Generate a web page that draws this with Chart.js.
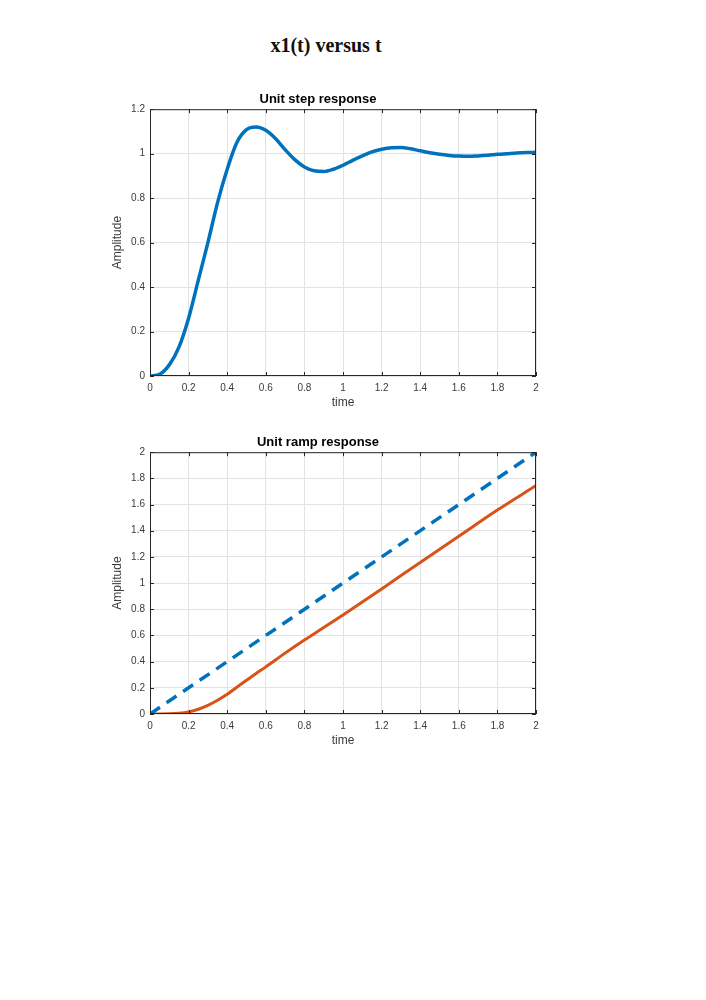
<!DOCTYPE html>
<html>
<head>
<meta charset="utf-8">
<script src="https://cdn.jsdelivr.net/npm/chart.js@4.4.0/dist/chart.umd.min.js"></script>
<style>
  body { margin: 0; background: #fff; width: 706px; height: 1000px; position: relative; overflow: hidden; }
  #pageTitle {
    position: absolute; left: 226px; width: 200px; top: 34px; text-align: center;
    font: bold 20px "Liberation Serif", "Times New Roman", serif; color: #111;
  }
  .box { position: absolute; left: 100px; width: 460px; }
</style>
</head>
<body>
<div id="pageTitle">x1(t) versus t</div>
<div class="box" style="top:85px;height:330px"><canvas id="stepChart"></canvas></div>
<div class="box" style="top:428px;height:325px"><canvas id="rampChart"></canvas></div>
<script>
// time axis ticks
const timeTicks = [0, 0.2, 0.4, 0.6, 0.8, 1, 1.2, 1.4, 1.6, 1.8, 2];

// unit step response
const stepTime = [0, 0.05, 0.1, 0.15, 0.2, 0.25, 0.3, 0.35, 0.4, 0.45, 0.5, 0.55, 0.6, 0.65, 0.7, 0.75, 0.8, 0.85, 0.9, 0.95,
  1, 1.05, 1.1, 1.15, 1.2, 1.25, 1.3, 1.35, 1.4, 1.45, 1.5, 1.55, 1.6, 1.65, 1.7, 1.75, 1.8, 1.85, 1.9, 1.95, 2];
const stepAmp = [0, 0.008, 0.05, 0.13, 0.26, 0.43, 0.6, 0.78, 0.93, 1.05, 1.108, 1.12, 1.105, 1.068, 1.018, 0.973, 0.94, 0.923, 0.92, 0.93,
  0.948, 0.97, 0.99, 1.008, 1.02, 1.027, 1.028, 1.022, 1.013, 1.004, 0.997, 0.992, 0.989, 0.988, 0.99, 0.993, 0.997, 1.0, 1.003, 1.005, 1.006];

// unit ramp input (dashed) and response (solid)
const rampInputTime = [0, 2];
const rampInputAmp = [0, 2];
const rampTime = [0, 0.1, 0.15, 0.2, 0.25, 0.3, 0.35, 0.4, 0.45, 0.5, 0.55, 0.6, 0.7, 0.8, 0.9, 1, 1.2, 1.4, 1.6, 1.8, 2];
const rampAmp = [0, 0.002, 0.006, 0.016, 0.036, 0.066, 0.105, 0.15, 0.205, 0.258, 0.31, 0.36, 0.465, 0.565, 0.66, 0.757, 0.955, 1.158, 1.358, 1.558, 1.745];

const stepTicks = [0, 0.2, 0.4, 0.6, 0.8, 1, 1.2];
const rampTicks = [0, 0.2, 0.4, 0.6, 0.8, 1, 1.2, 1.4, 1.6, 1.8, 2];

const axisColor = '#262626';
const labelColor = '#3a3a3a';
const gridColor = '#e3e3e3';
const tickFont = { family: '"Liberation Sans", Arial, sans-serif', size: 10 };
const labelFont = { family: '"Liberation Sans", Arial, sans-serif', size: 12, lineHeight: 1.2 };

const toPoints = (xs, ys) => xs.map((x, i) => ({ x, y: ys[i] }));
// MATLAB style labels: 0, 0.2, ..., 1, ..., 2
const fmt = v => String(Math.round(v * 10) / 10);

// MATLAB-like box with inward ticks on all four sides
const boxPlugin = {
  id: 'matlabBox',
  afterDraw(chart) {
    const { ctx, chartArea: a, scales } = chart;
    const len = 4;
    ctx.save();
    ctx.strokeStyle = axisColor;
    ctx.lineWidth = 1;
    ctx.strokeRect(a.left + 0.5, a.top + 0.5, a.right - a.left - 1, a.bottom - a.top - 1);
    ctx.beginPath();
    scales.x.ticks.forEach(t => {
      const px = Math.round(scales.x.getPixelForValue(t.value)) + 0.5;
      ctx.moveTo(px, a.bottom); ctx.lineTo(px, a.bottom - len);
      ctx.moveTo(px, a.top); ctx.lineTo(px, a.top + len);
    });
    scales.y.ticks.forEach(t => {
      const py = Math.round(scales.y.getPixelForValue(t.value)) + 0.5;
      ctx.moveTo(a.left, py); ctx.lineTo(a.left + len, py);
      ctx.moveTo(a.right, py); ctx.lineTo(a.right - len, py);
    });
    ctx.stroke();
    ctx.restore();
  }
};

function makeOptions(title, yMax, yTicks) {
  return {
    responsive: true,
    maintainAspectRatio: false,
    animation: false,
    layout: { padding: { left: 0, right: 24, top: 0, bottom: 0 } },
    plugins: {
      legend: { display: false },
      tooltip: { enabled: false },
      title: {
        display: true, text: title, color: '#000',
        font: { family: '"Liberation Sans", Arial, sans-serif', size: 13, weight: 'bold', lineHeight: 1.2 },
        padding: { top: 7, bottom: 1.6 }
      }
    },
    scales: {
      x: {
        type: 'linear', min: 0, max: 2,
        afterBuildTicks: s => { s.ticks = timeTicks.map(v => ({ value: v })); },
        afterFit: s => { s.height = 39; },
        grid: { color: gridColor, drawTicks: false },
        border: { display: false },
        ticks: { color: labelColor, font: tickFont, padding: 6, maxRotation: 0, callback: fmt },
        title: { display: true, text: 'time', color: labelColor, font: labelFont, padding: { top: 0, bottom: 4.8 } }
      },
      y: {
        type: 'linear', min: 0, max: yMax,
        afterBuildTicks: s => { s.ticks = yTicks.map(v => ({ value: v })); },
        afterFit: s => { s.width = 50; },
        grid: { color: gridColor, drawTicks: false },
        border: { display: false },
        ticks: { color: labelColor, font: tickFont, padding: 5, callback: fmt },
        title: { display: true, text: 'Amplitude', color: labelColor, font: labelFont, padding: { top: 10.8, bottom: 0 } }
      }
    }
  };
}

new Chart(document.getElementById('stepChart'), {
  type: 'line',
  data: {
    datasets: [{
      data: toPoints(stepTime, stepAmp),
      borderColor: '#0072BD', borderWidth: 3.5, pointRadius: 0,
      cubicInterpolationMode: 'monotone', fill: false
    }]
  },
  options: makeOptions('Unit step response', 1.2, stepTicks),
  plugins: [boxPlugin]
});

new Chart(document.getElementById('rampChart'), {
  type: 'line',
  data: {
    datasets: [{
      data: toPoints(rampInputTime, rampInputAmp),
      borderColor: '#0072BD', borderWidth: 3.5, borderDash: [12, 8], pointRadius: 0, fill: false
    }, {
      data: toPoints(rampTime, rampAmp),
      borderColor: '#D95319', borderWidth: 3, pointRadius: 0,
      cubicInterpolationMode: 'monotone', fill: false
    }]
  },
  options: makeOptions('Unit ramp response', 2, rampTicks),
  plugins: [boxPlugin]
});
</script>
</body>
</html>
